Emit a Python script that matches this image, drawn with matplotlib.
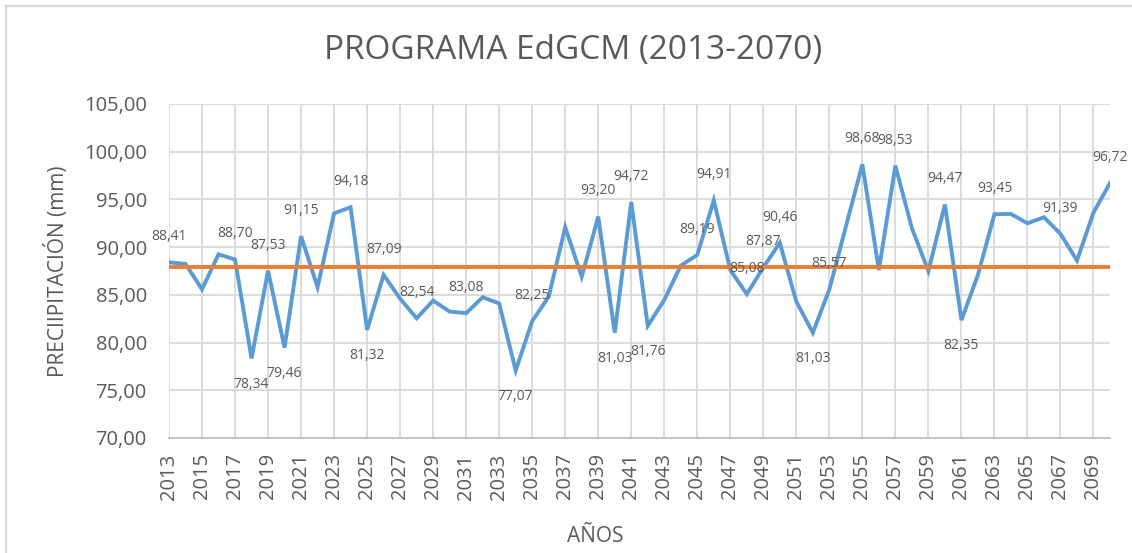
import matplotlib
matplotlib.use("Agg")
import matplotlib.pyplot as plt
from matplotlib.lines import Line2D

years = list(range(2013, 2071))
precip = [88.41, 88.24, 85.58, 89.25, 88.70, 78.34, 87.53, 79.46, 91.15, 85.80,
          93.55, 94.18, 81.32, 87.09, 84.60, 82.54, 84.40, 83.25, 83.08, 84.75,
          84.10, 77.07, 82.25, 84.80, 92.08, 86.90, 93.20, 81.03, 94.72, 81.76,
          84.47, 88.06, 89.19, 94.91, 87.60, 85.08, 87.87, 90.46, 84.29, 81.03,
          85.57, 92.15, 98.68, 87.60, 98.53, 91.98, 87.50, 94.47, 82.35, 87.09,
          93.45, 93.48, 92.50, 93.13, 91.39, 88.60, 93.62, 96.72]
average = 87.95

# labelled years and whether the label sits above (1) or below (-1) the point
label_years = [2013, 2017, 2018, 2019, 2020, 2021, 2024, 2025, 2026, 2028, 2031,
               2034, 2035, 2039, 2040, 2041, 2042, 2045, 2046, 2048, 2049, 2050,
               2052, 2053, 2055, 2057, 2060, 2061, 2063, 2067, 2070]
label_side = [1, 1, -1, 1, -1, 1, 1, -1, 1, 1, 1,
              -1, 1, 1, -1, 1, -1, 1, 1, 1, 1, 1,
              -1, 1, 1, 1, 1, -1, 1, 1, 1]

title = "PROGRAMA EdGCM (2013-2070)"
ylabel = "PRECIIPITACIÓN (mm)"
xlabel = "AÑOS"

plt.rcParams['font.family'] = ['Open Sans', 'DejaVu Sans']
text_col = "#595959"
grid_col = "#D9D9D9"

fig = plt.figure(figsize=(11.32, 5.53), dpi=100)
ax = fig.add_axes([169/1132, 1-438/553, (1110-169)/1132, (438-104)/553])

ax.plot(years, precip, color="#5B9BD5", lw=2.8, solid_joinstyle='miter', zorder=3)
ax.plot(years, [average]*len(years), color="#ED7D31", lw=2.8, zorder=4)

for yr, side in zip(label_years, label_side):
    v = precip[yr - 2013]
    ax.annotate(f"{v:.2f}".replace('.', ','), (yr, v), xytext=(0, 18.5*side),
                textcoords='offset points', ha='center', va='center',
                fontsize=10, color=text_col, zorder=5)

ax.set_xlim(2013, 2070)
ax.set_ylim(70, 105)
ax.set_yticks(range(70, 106, 5))
ax.set_yticklabels([f"{t},00" for t in range(70, 106, 5)])
ax.set_xticks(list(range(2013, 2070, 2)))
ax.set_xticklabels([str(t) for t in range(2013, 2070, 2)], rotation=90)
ax.tick_params(axis='both', length=0, labelsize=14.5, colors=text_col)
ax.tick_params(axis='y', pad=16)
ax.tick_params(axis='x', pad=11)
ax.grid(True, color=grid_col, lw=1.3, zorder=0)
for s in ['top', 'right', 'left']:
    ax.spines[s].set_visible(False)
ax.spines['bottom'].set_color("#BFBFBF")
ax.spines['bottom'].set_linewidth(1.3)
ax.set_axisbelow(True)

fig.text(573/1132, 1-51/553, title, ha='center', va='center', fontsize=24, color=text_col)
fig.text(57/1132, 1-271/553, ylabel, ha='center', va='center', rotation=90,
         fontsize=15, color=text_col)
fig.text(595/1132, 1-536/553, xlabel, ha='center', va='center', fontsize=15, color=text_col)

# outer chart border (top and left visible)
fig.add_artist(Line2D([6/1132, 6/1132], [0, 1-6/553], transform=fig.transFigure,
                      color=grid_col, lw=1.6))
fig.add_artist(Line2D([6/1132, 1], [1-6/553, 1-6/553], transform=fig.transFigure,
                      color=grid_col, lw=1.6))

fig.savefig("out.png", dpi=100, facecolor='white')
